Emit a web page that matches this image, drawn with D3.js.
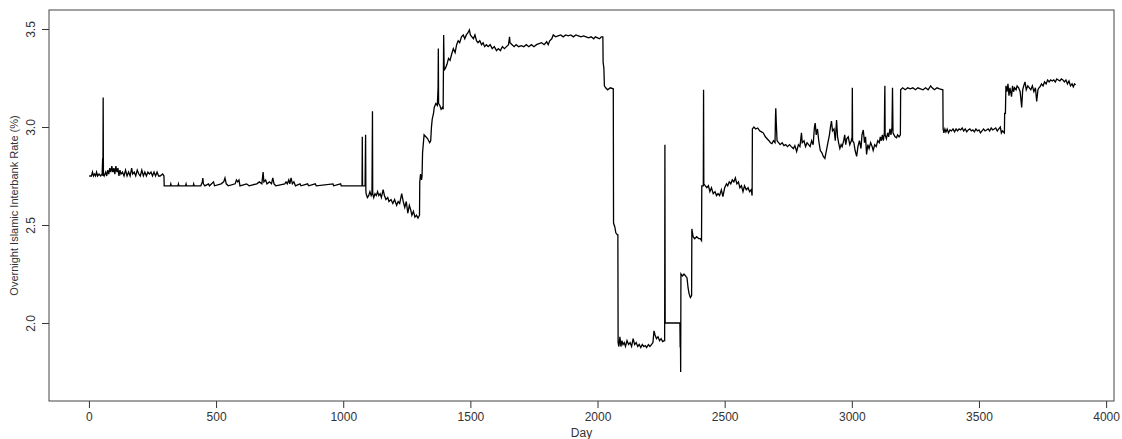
<!DOCTYPE html>
<html>
<head>
<meta charset="utf-8">
<script src="https://cdn.jsdelivr.net/npm/d3@7"></script>
<style>
  body { margin: 0; background: #fff; }
  text { font-family: "Liberation Sans", Arial, sans-serif; fill: #333; }
</style>
</head>
<body>
<script>
// Overnight rate readings, [day, rate %], split by regime
var phaseFlat = [
  [1,2.75],[10,2.75],[14,2.77],[18,2.75],[22,2.76],[26,2.75],[30,2.77],[34,2.75],[40,2.76],[46,2.75],
  [52,2.76],[54,2.84],[55,2.75],[56,3.15],[57,2.76],[60,2.75],[66,2.77],[70,2.75],[74,2.78],[78,2.76],
  [82,2.79],[86,2.77],[90,2.80],[94,2.77],[98,2.79],[102,2.76],[106,2.80],[110,2.77],[114,2.79],[118,2.75],
  [122,2.78],[126,2.76],[132,2.77],[138,2.75],[144,2.78],[150,2.75],[156,2.77],[162,2.75],[168,2.79],[172,2.76],
  [178,2.77],[184,2.75],[190,2.78],[196,2.76],[202,2.75],[208,2.78],[214,2.75],[220,2.77],[226,2.75],[232,2.77],
  [238,2.76],[244,2.77],[250,2.75],[256,2.77],[262,2.75],[268,2.77],[274,2.75],[280,2.75],[290,2.76],[295,2.75],
  [296,2.70],[300,2.70],[320,2.70],[322,2.71],[324,2.70],[350,2.70],[352,2.71],[354,2.70],[380,2.70],[382,2.71],
  [384,2.70],[410,2.70],[412,2.71],[414,2.70],[440,2.70],[446,2.72],[448,2.74],[450,2.71],[456,2.70],[470,2.71],
  [474,2.70],[490,2.72],[494,2.70],[520,2.71],[530,2.72],[535,2.74],[540,2.71],[548,2.70],[575,2.71],[580,2.73],
  [585,2.72],[590,2.73],[594,2.70],[620,2.71],[630,2.70],[660,2.71],[670,2.72],[680,2.71],[685,2.77],[688,2.72],
  [695,2.73],[700,2.71],[710,2.72],[718,2.71],[723,2.74],[728,2.71],[735,2.70],[770,2.71],[775,2.72],[780,2.71],
  [786,2.73],[790,2.71],[795,2.74],[800,2.71],[806,2.72],[812,2.70],[830,2.71],[834,2.70],[860,2.71],[864,2.70],
  [890,2.71],[894,2.70],[960,2.71],[962,2.70],[990,2.71],[992,2.70],[1074,2.70],[1075,2.95],[1076,2.70],[1086,2.70],
  [1087,2.84],[1088,2.96],[1089,2.68]
];

var phaseRise = [
  [1090,2.66],[1095,2.64],[1100,2.65],[1105,2.67],[1110,2.65],[1113,2.66],[1114,2.86],[1115,3.08],[1116,2.66],[1120,2.64],
  [1125,2.66],[1130,2.65],[1135,2.67],[1140,2.65],[1145,2.66],[1150,2.64],[1157,2.68],[1162,2.65],[1168,2.63],[1175,2.64],
  [1180,2.62],[1188,2.63],[1195,2.61],[1202,2.63],[1210,2.60],[1216,2.62],[1222,2.61],[1230,2.66],[1236,2.62],[1242,2.59],
  [1248,2.62],[1254,2.56],[1260,2.60],[1265,2.58],[1270,2.55],[1276,2.57],[1282,2.54],[1288,2.55],[1294,2.535],[1300,2.55],
  [1301,2.72],[1304,2.76],[1308,2.73],[1310,2.75],[1312,2.87],[1316,2.93],[1318,2.96],[1325,2.95],[1332,2.94],[1340,2.92],
  [1344,2.93],[1347,3.00],[1350,3.04],[1355,3.07],[1358,3.10],[1364,3.12],[1370,3.11],[1373,3.20],[1374,3.40],[1375,3.12],
  [1380,3.11],[1385,3.09],[1390,3.10],[1393,3.09],[1395,3.47],[1397,3.29],[1402,3.30],[1408,3.32],[1414,3.35],[1420,3.34],
  [1426,3.37],[1433,3.40],[1440,3.38],[1446,3.42],[1452,3.44],[1458,3.43],[1465,3.46],[1472,3.47],[1478,3.45],[1484,3.47],
  [1490,3.48],[1496,3.495],[1500,3.47],[1506,3.46],[1512,3.45],[1518,3.47],[1524,3.44],[1530,3.43],[1537,3.44],[1544,3.42],
  [1550,3.43],[1556,3.41],[1563,3.42],[1570,3.41],[1578,3.42],[1586,3.40],[1594,3.41],[1603,3.39],[1610,3.40],[1618,3.39],
  [1626,3.41],[1634,3.40],[1642,3.41],[1650,3.42],[1654,3.46],[1656,3.43],[1664,3.42],[1672,3.41],[1680,3.42],[1690,3.41],
  [1700,3.415],[1710,3.41],[1720,3.42],[1730,3.41],[1740,3.42],[1750,3.41],[1760,3.42],[1770,3.425],[1780,3.43],[1790,3.42],
  [1800,3.435],[1806,3.42],[1812,3.44],[1820,3.45],[1826,3.47],[1835,3.46],[1845,3.465],[1855,3.47],[1865,3.46],[1875,3.47],
  [1885,3.465],[1895,3.47],[1905,3.46],[1915,3.47],[1925,3.465],[1935,3.46],[1945,3.465],[1955,3.46],[1965,3.455],[1975,3.46],
  [1985,3.45],[1992,3.46],[2000,3.455],[2008,3.45],[2015,3.46],[2021,3.46]
];

var phaseCrash = [
  [2022,3.33],[2025,3.30],[2027,3.21],[2032,3.20],[2040,3.19],[2050,3.20],[2062,3.195],[2063,2.51],[2068,2.49],[2072,2.46],
  [2078,2.45],[2080,2.45],[2081,1.90],[2084,1.88],[2088,1.93],[2092,1.88],[2096,1.91],[2100,1.89],[2105,1.90],[2110,1.88],
  [2116,1.91],[2122,1.89],[2128,1.90],[2134,1.88],[2140,1.92],[2146,1.89],[2152,1.90],[2158,1.88],[2164,1.89],[2170,1.875],
  [2176,1.89],[2182,1.88],[2188,1.885],[2193,1.875],[2200,1.89],[2206,1.88],[2212,1.89],[2218,1.90],[2222,1.96],[2226,1.94],
  [2232,1.92],[2238,1.93],[2244,1.91],[2250,1.92],[2256,1.905],[2262,1.91],[2264,1.91],[2265,2.91],[2266,2.00],[2324,2.00],
  [2325,1.875],[2326,1.95],[2327,1.75],[2328,2.25],[2334,2.24],[2340,2.25],[2346,2.24],[2352,2.23],[2356,2.18],[2360,2.15],
  [2365,2.13],[2370,2.14],[2371,2.48],[2376,2.44],[2382,2.43],[2390,2.44],[2398,2.43],[2404,2.43],[2409,2.42],[2410,2.70],
  [2416,2.70],[2417,3.19],[2418,2.71],[2424,2.70],[2430,2.69],[2436,2.70],[2442,2.67],[2448,2.69],[2455,2.66],[2462,2.67],
  [2468,2.65],[2474,2.66],[2480,2.65],[2487,2.68],[2493,2.645],[2500,2.69],[2507,2.71],[2512,2.70],[2518,2.72],[2524,2.71],
  [2530,2.73],[2536,2.72],[2542,2.74],[2548,2.71],[2554,2.72],[2560,2.69],[2566,2.70],[2572,2.67],[2578,2.70],[2585,2.68],
  [2592,2.69],[2598,2.67],[2604,2.68],[2608,2.65]
];

var phaseRecovery = [
  [2609,2.99],[2615,3.00],[2622,2.99],[2630,2.995],[2638,2.98],[2645,2.975],[2652,2.97],[2660,2.95],[2667,2.94],[2674,2.93],
  [2680,2.92],[2686,2.915],[2692,2.93],[2698,2.92],[2700,3.06],[2701,3.095],[2703,3.02],[2706,2.93],[2712,2.92],[2718,2.91],
  [2726,2.92],[2733,2.905],[2740,2.91],[2747,2.90],[2755,2.91],[2762,2.90],[2770,2.89],[2776,2.905],[2783,2.875],[2790,2.91],
  [2796,2.90],[2802,2.97],[2805,2.92],[2812,2.93],[2818,2.90],[2824,2.92],[2830,2.91],[2836,2.90],[2842,2.93],[2848,2.91],
  [2853,3.00],[2856,3.02],[2860,2.96],[2865,2.99],[2870,2.93],[2876,2.88],[2882,2.87],[2888,2.85],[2894,2.84],[2900,2.88],
  [2906,2.92],[2912,2.96],[2916,3.00],[2920,3.03],[2924,2.98],[2930,2.99],[2935,2.93],[2940,3.035],[2944,2.95],[2948,2.92],
  [2953,2.89],[2958,2.91],[2962,2.90],[2968,2.93],[2972,2.96],[2976,2.91],[2980,2.94],[2986,2.95],[2992,2.91],[2998,2.93],
  [3001,2.95],[3002,3.20],[3003,2.93],[3008,2.92],[3013,2.88],[3019,2.85],[3024,2.90],[3030,2.93],[3036,2.89],[3040,2.96],
  [3045,2.985],[3050,2.92],[3054,2.95],[3058,2.86],[3063,2.91],[3068,2.89],[3074,2.92],[3080,2.90],[3084,2.88],[3090,2.91],
  [3096,2.90],[3102,2.93],[3108,2.92],[3112,2.95],[3116,2.93],[3120,2.96],[3124,2.93],[3128,2.97],[3129,3.12],[3130,3.21],
  [3131,2.96],[3136,2.94],[3141,2.97],[3145,2.95],[3150,2.99],[3154,2.96],[3158,3.00],[3160,3.20],[3162,2.97],[3166,2.96],
  [3170,2.95],[3176,2.945],[3180,2.96],[3186,2.95],[3191,2.96],[3192,3.19],[3200,3.20],[3210,3.19],[3220,3.20],[3230,3.195],
  [3240,3.20],[3250,3.19],[3260,3.20],[3270,3.195],[3280,3.19],[3290,3.20],[3300,3.19],[3310,3.21],[3316,3.20],[3325,3.19],
  [3335,3.20],[3345,3.195],[3358,3.19],[3359,2.99],[3362,2.97],[3366,2.99],[3370,2.975],[3375,2.99],[3380,2.97],[3386,2.985],
  [3392,2.98],[3398,2.99],[3404,2.975],[3410,2.99],[3416,2.98],[3422,2.99],[3428,2.985],[3434,2.995],[3440,2.98],[3446,2.99],
  [3452,2.975],[3458,2.985],[3464,2.99],[3470,2.98],[3476,2.985],[3482,2.975],[3488,2.99],[3494,2.98],[3500,2.985],[3506,2.97],
  [3512,2.98],[3518,2.99],[3524,2.98],[3530,2.985],[3536,2.99],[3542,2.98],[3548,2.995],[3554,2.985],[3560,2.99],[3566,2.995],
  [3572,2.98],[3578,2.99],[3584,3.00],[3588,2.97],[3592,2.98],[3600,2.97],[3601,3.07],[3604,3.07],[3606,3.21],[3610,3.18],
  [3614,3.22],[3618,3.16],[3622,3.20],[3626,3.17],[3628,3.155],[3632,3.21],[3636,3.18],[3640,3.20],[3646,3.19],[3650,3.21],
  [3656,3.20],[3662,3.18],[3668,3.10],[3672,3.19],[3676,3.21],[3681,3.23],[3686,3.19],[3692,3.21],[3698,3.20],[3704,3.19],
  [3710,3.21],[3716,3.18],[3722,3.20],[3727,3.13],[3732,3.19],[3736,3.20],[3740,3.205],[3746,3.22],[3752,3.21],[3758,3.23],
  [3764,3.22],[3770,3.24],[3776,3.23],[3782,3.24],[3788,3.235],[3794,3.24],[3800,3.23],[3806,3.245],[3812,3.24],[3818,3.235],
  [3824,3.245],[3830,3.24],[3836,3.23],[3842,3.24],[3848,3.22],[3854,3.235],[3860,3.21],[3866,3.22],[3871,3.205],[3876,3.22],
  [3880,3.215]
];

var xTicks = [0, 500, 1000, 1500, 2000, 2500, 3000, 3500, 4000];
var yTicks = [2.0, 2.5, 3.0, 3.5];
var xTitle = "Day";
var yTitle = "Overnight Islamic Interbank Rate (%)";

var series = phaseFlat.concat(phaseRise, phaseCrash, phaseRecovery);

var width = 1122, height = 439;
var margin = { top: 10, right: 8, bottom: 38, left: 49 };

var svg = d3.select("body")
  .append("svg")
  .attr("width", width)
  .attr("height", height);

// R-style 4% padding around the data range
var x = d3.scaleLinear()
  .domain([-157, 4031])
  .range([margin.left, width - margin.right]);

var y = d3.scaleLinear()
  .domain([1.602, 3.597])
  .range([height - margin.bottom, margin.top]);

var line = d3.line()
  .x(function (d) { return x(d[0]); })
  .y(function (d) { return y(d[1]); });

svg.append("path")
  .datum(series)
  .attr("d", line)
  .attr("fill", "none")
  .attr("stroke", "#000")
  .attr("stroke-width", 1.3)
  .attr("stroke-linejoin", "miter");

// x axis
var xAxis = svg.append("g")
  .attr("transform", "translate(0," + (height - margin.bottom) + ")")
  .call(d3.axisBottom(x).tickValues(xTicks).tickFormat(d3.format("d")).tickSize(7).tickSizeOuter(0).tickPadding(4));
xAxis.select(".domain").remove();
xAxis.selectAll("line").attr("stroke", "#333");
xAxis.selectAll("text")
  .style("font-size", "12px")
  .attr("fill", "#333");

// y axis, labels rotated like base R
var yAxis = svg.append("g")
  .attr("transform", "translate(" + margin.left + ",0)")
  .call(d3.axisLeft(y).tickValues(yTicks).tickFormat(d3.format(".1f")).tickSize(7).tickSizeOuter(0));
yAxis.select(".domain").remove();
yAxis.selectAll("line").attr("stroke", "#333");
yAxis.selectAll("text")
  .style("font-size", "12px")
  .attr("fill", "#333")
  .attr("text-anchor", "middle")
  .attr("dy", null)
  .attr("x", null)
  .attr("transform", "translate(-14,0) rotate(-90)");

// plot frame
svg.append("rect")
  .attr("x", margin.left)
  .attr("y", margin.top)
  .attr("width", width - margin.left - margin.right)
  .attr("height", height - margin.top - margin.bottom)
  .attr("fill", "none")
  .attr("stroke", "#444")
  .attr("stroke-width", 1);

svg.append("text")
  .attr("x", (margin.left + width - margin.right) / 2)
  .attr("y", height - 2)
  .attr("text-anchor", "middle")
  .style("font-size", "12px")
  .text(xTitle);

svg.append("text")
  .attr("transform", "translate(18," + ((margin.top + height - margin.bottom) / 2) + ") rotate(-90)")
  .attr("text-anchor", "middle")
  .style("font-size", "11px")
  .text(yTitle);
</script>
</body>
</html>
